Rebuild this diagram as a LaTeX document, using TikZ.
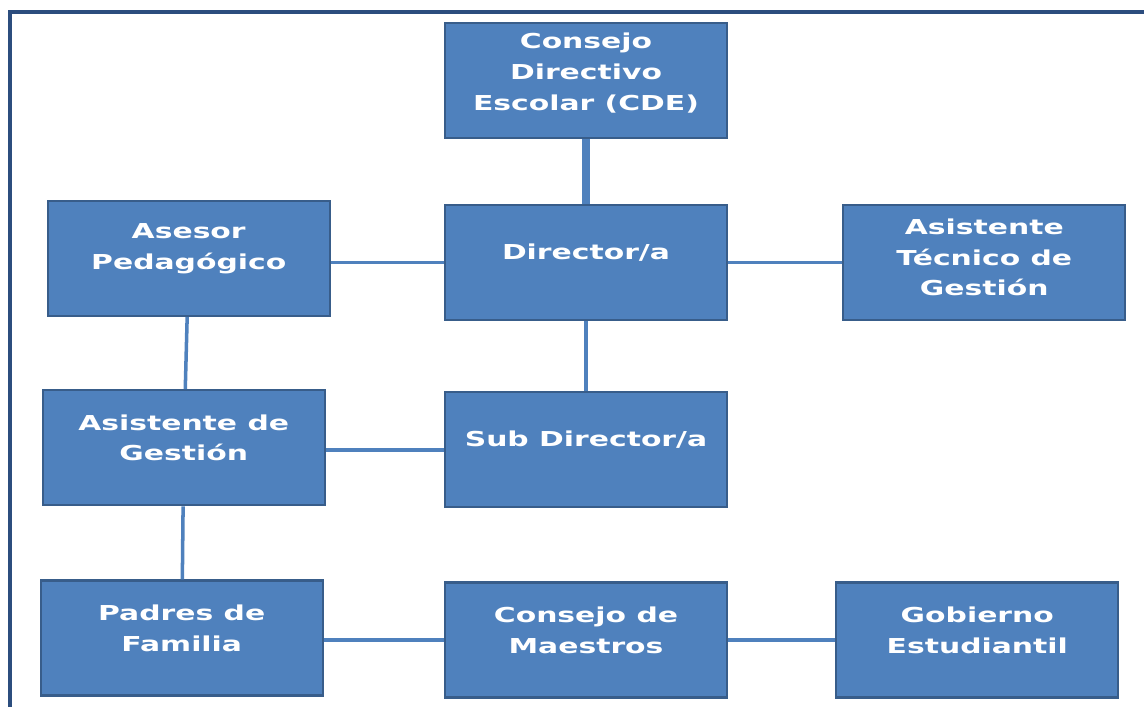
\documentclass[tikz,border=0pt]{standalone}
\usepackage{fontspec}
\setmainfont{DejaVu Sans}[FakeStretch=1.45]
\usepackage{tikz}
\usetikzlibrary{positioning}
\definecolor{boxfill}{HTML}{4F81BD}
\definecolor{boxline}{HTML}{385D8A}
\definecolor{frameblue}{HTML}{2C4D7E}
\tikzstyle{unit}=[rectangle,draw=boxline,fill=boxfill,line width=1.3pt,minimum width=5.64cm,minimum height=2.3cm,inner sep=0pt]
\tikzstyle{txt}=[text=white,font=\bfseries\fontsize{11.7}{17.5}\selectfont,align=center,yshift=0.2cm]
\tikzstyle{link}=[draw=boxfill,line width=2pt]

\begin{document}
\begin{tikzpicture}
	\useasboundingbox (0,0) rectangle (22.88,-14.14);
	\draw[frameblue,line width=2.3pt] (0.2,-14.14) |- (22.88,-0.24);

	\node[unit,label={[txt]center:Director/a}] (director) at (11.72,-5.25) {};
	\node[unit,above=1.3cm of director,label={[txt,yshift=-0.06cm]center:Consejo\\Directivo\\Escolar (CDE)}] (cde) {};
	\node[unit,left=2.26cm of director,yshift=0.08cm,label={[txt]center:Asesor\\Pedagógico}] (asesor) {};
	\node[unit,right=2.28cm of director,label={[txt,yshift=-0.1cm]center:Asistente\\Técnico de\\Gestión}] (tecnico) {};
	\node[unit,below=1.4cm of director,label={[txt]center:Sub Director/a}] (subdirector) {};
	\node[unit,left=2.36cm of subdirector,yshift=0.04cm,label={[txt]center:Asistente de\\Gestión}] (gestion) {};
	\node[unit,below=1.46cm of subdirector,label={[txt]center:Consejo de\\Maestros}] (maestros) {};
	\node[unit,left=2.4cm of maestros,yshift=0.04cm,label={[txt]center:Padres de\\Familia}] (padres) {};
	\node[unit,right=2.14cm of maestros,label={[txt]center:Gobierno\\Estudiantil}] (gobierno) {};

	\draw[link,line width=5pt] (cde) -- (director);
	\draw[link] (director.west) -- (director.west -| asesor.east);
	\draw[link] (director) -- (tecnico);
	\draw[link,line width=2.6pt] (director) -- (subdirector);
	\draw[link] (asesor) -- (gestion);
	\draw[link] (subdirector.west) -- (subdirector.west -| gestion.east);
	\draw[link] (gestion) -- (padres);
	\draw[link] (maestros.west) -- (maestros.west -| padres.east);
	\draw[link] (maestros) -- (gobierno);
\end{tikzpicture}
\end{document}
